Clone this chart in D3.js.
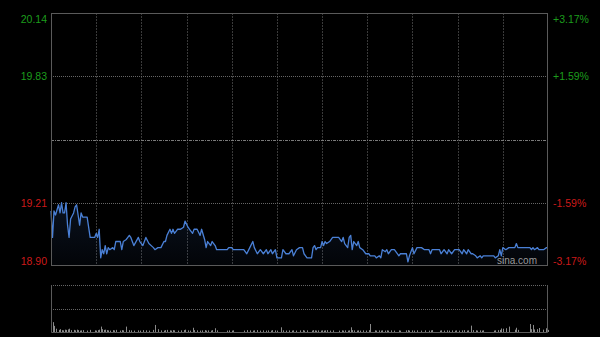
<!DOCTYPE html>
<html>
<head>
<meta charset="utf-8">
<script src="https://cdn.jsdelivr.net/npm/d3@7"></script>
<style>
  body { margin: 0; background: #000; }
  svg { display: block; font-family: Arial, "Liberation Sans", sans-serif; }
</style>
</head>
<body>
<div class="app"></div>
<script>
'use strict'

// Цена закрытия предыдущего дня и подписи шкал
var preClose = 19.52;
var priceTicks = [20.14, 19.83, 19.52, 19.21, 18.90];
var pctTicks = ['+3.17%', '+1.59%', '', '-1.59%', '-3.17%'];

// Торговый день: 330 минут (без обеда), сетка каждые 30 минут
var sessionMinutes = 330;
var gridStep = 30;
var volumeTop = 1000;

// Минута от открытия
var minuteIdx = [
  0, 1, 2, 3, 5, 6, 7, 8, 9, 10,
  11, 12, 13, 15, 16, 17, 18, 19, 20, 21,
  24, 26, 29, 30, 31, 32, 33, 34, 35, 36,
  37, 38, 39, 41, 42, 43, 46, 47, 48, 50,
  52, 53, 55, 58, 59, 61, 63, 65, 68, 69,
  71, 73, 75, 76, 77, 79, 80, 81, 82, 84,
  86, 88, 89, 91, 92, 94, 95, 97, 99, 100,
  102, 103, 104, 106, 107, 109, 110, 117, 118, 120,
  121, 128, 130, 132, 134, 135, 137, 139, 141, 143,
  144, 146, 147, 149, 150, 153, 154, 156, 158, 160,
  161, 163, 165, 167, 168, 170, 173, 174, 175, 176,
  177, 179, 180, 181, 182, 183, 185, 187, 191, 193,
  194, 195, 197, 198, 199, 200, 201, 203, 204, 205,
  207, 209, 211, 212, 215, 216, 218, 219, 220, 222,
  223, 224, 226, 228, 231, 232, 236, 237, 238, 240,
  241, 243, 246, 248, 251, 252, 253, 258, 259, 261,
  263, 264, 266, 268, 269, 271, 273, 274, 276, 277,
  279, 280, 282, 283, 285, 286, 287, 294, 295, 297,
  298, 299, 300, 302, 304, 308, 309, 310, 318, 319,
  320, 321, 323, 324, 327, 329, 330
];

// Цена
var price = [
  19.17, 19.04, 19.17, 19.15, 19.20, 19.16, 19.21, 19.16, 19.16, 19.21,
  19.10, 19.04, 19.13, 19.16, 19.19, 19.20, 19.15, 19.10, 19.16, 19.14,
  19.14, 19.04, 19.04, 19.06, 19.04, 19.08, 18.94, 18.98, 18.96, 19.00,
  18.96, 18.99, 18.98, 18.99, 18.98, 19.02, 19.02, 18.98, 19.02, 19.03,
  19.05, 19.04, 19.00, 19.04, 19.02, 19.00, 19.04, 19.01, 18.99, 18.98,
  18.99, 18.99, 19.02, 19.02, 19.05, 19.08, 19.06, 19.08, 19.06, 19.08,
  19.08, 19.09, 19.12, 19.09, 19.08, 19.06, 19.08, 19.08, 19.05, 19.08,
  19.03, 18.99, 19.02, 19.00, 19.02, 19.00, 18.98, 18.98, 18.99, 18.99,
  18.98, 18.98, 18.96, 18.99, 19.02, 18.99, 18.96, 18.98, 18.96, 18.98,
  18.96, 18.98, 18.96, 18.98, 18.94, 18.94, 18.98, 18.96, 18.96, 18.98,
  18.95, 18.98, 18.99, 18.99, 18.96, 18.94, 18.94, 18.99, 19.00, 18.98,
  18.99, 18.99, 19.02, 19.00, 19.02, 19.01, 19.02, 19.04, 19.04, 19.02,
  19.04, 19.01, 18.99, 19.04, 19.05, 18.98, 19.02, 19.00, 19.02, 18.99,
  18.98, 18.96, 18.96, 18.95, 18.95, 18.94, 18.95, 18.94, 18.98, 18.97,
  18.98, 18.96, 18.98, 18.98, 18.95, 18.96, 18.96, 18.92, 18.95, 18.99,
  18.96, 18.99, 18.99, 18.98, 18.98, 18.96, 18.98, 18.98, 18.96, 18.98,
  18.96, 18.98, 18.96, 18.98, 18.98, 18.98, 18.96, 18.98, 18.96, 18.98,
  18.96, 18.96, 18.95, 18.94, 18.95, 18.94, 18.95, 18.95, 18.94, 18.95,
  18.98, 18.95, 18.99, 18.98, 18.99, 18.99, 19.01, 18.99, 18.99, 18.98,
  18.99, 18.98, 18.99, 18.98, 18.98, 18.99, 18.99
];

// Объём
var volume = [
  280, 210, 130, 70, 45, 60, 40, 35, 50, 45,
  55, 70, 40, 45, 35, 50, 40, 30, 35, 40,
  30, 45, 35, 30, 40, 50, 115, 60, 45, 50,
  40, 35, 30, 40, 35, 45, 30, 40, 35, 115,
  40, 35, 30, 35, 30, 40, 35, 30, 45, 150,
  60, 35, 30, 40, 45, 35, 30, 40, 35, 30,
  35, 40, 50, 35, 30, 90, 40, 35, 30, 35,
  40, 30, 35, 30, 40, 80, 35, 30, 35, 30,
  35, 30, 40, 35, 30, 35, 40, 30, 35, 30,
  35, 30, 40, 35, 30, 100, 35, 30, 35, 30,
  35, 30, 35, 40, 30, 35, 30, 40, 35, 30,
  35, 30, 35, 30, 35, 40, 30, 35, 30, 35,
  30, 35, 30, 35, 100, 40, 35, 30, 35, 30,
  35, 30, 40, 170, 35, 30, 35, 30, 35, 30,
  35, 30, 35, 30, 35, 30, 35, 40, 30, 35,
  30, 35, 30, 35, 30, 35, 40, 30, 35, 30,
  35, 30, 35, 30, 35, 30, 35, 40, 30, 35,
  135, 40, 35, 30, 35, 30, 35, 30, 35, 40,
  45, 75, 70, 80, 115, 50, 90, 45, 170, 60,
  150, 55, 60, 85, 50, 80, 45
];

var data = minuteIdx.map(function(m, i) {
  return { minute: m, price: price[i], volume: volume[i] };
});

// Границы графиков
var box = { left: 51, right: 548, top: 13, bottom: 266, volTop: 285, volBottom: 332 };

var xScale = d3.scaleLinear().domain([0, sessionMinutes]).range([box.left, box.right]);
var yScale = d3.scaleLinear().domain([priceTicks[4], priceTicks[0]]).range([box.bottom, box.top]);
var yVol = d3.scaleLinear().domain([0, volumeTop]).range([box.volBottom, box.volTop]);

function px(v) { return Math.round(v) + 0.5; }

var svg = d3.select('.app')
  .append('svg')
  .attr('width', 600)
  .attr('height', 337);

svg.append('rect')
  .attr('width', 600)
  .attr('height', 337)
  .attr('fill', '#000');

var defs = svg.append('defs');
var grad = defs.append('linearGradient')
  .attr('id', 'areaFill')
  .attr('x1', 0).attr('y1', 0).attr('x2', 0).attr('y2', 1);
grad.append('stop').attr('offset', '0%').attr('stop-color', '#3f6fc0').attr('stop-opacity', 0.16);
grad.append('stop').attr('offset', '100%').attr('stop-color', '#3f6fc0').attr('stop-opacity', 0.04);

// Вертикальная сетка
var gridMinutes = d3.range(gridStep, sessionMinutes, gridStep);

svg.append('g')
  .selectAll('line')
  .data(gridMinutes)
  .join('line')
  .attr('x1', function(d) { return px(xScale(d)); })
  .attr('x2', function(d) { return px(xScale(d)); })
  .attr('y1', box.top)
  .attr('y2', box.bottom)
  .attr('stroke', '#3a3a3a')
  .attr('stroke-dasharray', '2,1');

// Горизонтальная сетка
svg.append('g')
  .selectAll('line')
  .data(priceTicks.slice(1, 4))
  .join('line')
  .attr('x1', box.left)
  .attr('x2', box.right)
  .attr('y1', function(d) { return px(yScale(d)); })
  .attr('y2', function(d) { return px(yScale(d)); })
  .attr('stroke', function(d) { return d === preClose ? '#7a7a7a' : '#666'; })
  .attr('stroke-dasharray', function(d) { return d === preClose ? '3,1,1,1' : '1,1'; });

// Область и линия цены
var area = d3.area()
  .x(function(d) { return xScale(d.minute); })
  .y0(box.bottom)
  .y1(function(d) { return yScale(d.price); });

var line = d3.line()
  .x(function(d) { return xScale(d.minute); })
  .y(function(d) { return yScale(d.price); });

svg.append('path')
  .attr('d', area(data))
  .attr('fill', 'url(#areaFill)');

svg.append('path')
  .attr('d', line(data))
  .attr('fill', 'none')
  .attr('stroke', '#4a80d6')
  .attr('stroke-width', 1.3)
  .attr('stroke-linejoin', 'round');

// Рамка основного графика
svg.append('rect')
  .attr('x', box.left + 0.5)
  .attr('y', box.top + 0.5)
  .attr('width', box.right - box.left - 1)
  .attr('height', box.bottom - box.top - 1)
  .attr('fill', 'none')
  .attr('stroke', '#5a5a5a');

// Подписи цены слева
svg.append('g')
  .selectAll('text')
  .data(priceTicks)
  .join('text')
  .attr('x', box.left - 4)
  .attr('y', function(d, i) {
    var shift = i === 0 ? 6 : (i === priceTicks.length - 1 ? -5 : 0);
    return yScale(d) + shift;
  })
  .attr('dominant-baseline', 'central')
  .attr('text-anchor', 'end')
  .attr('font-size', 10.5)
  .attr('fill', function(d) { return d > preClose ? '#1c9c1c' : '#cc1a1a'; })
  .text(function(d, i) { return i === 2 ? '' : d.toFixed(2); });

// Подписи процентов справа
svg.append('g')
  .selectAll('text')
  .data(pctTicks)
  .join('text')
  .attr('x', box.right + 5)
  .attr('y', function(d, i) {
    var shift = i === 0 ? 6 : (i === pctTicks.length - 1 ? -5 : 0);
    return yScale(priceTicks[i]) + shift;
  })
  .attr('dominant-baseline', 'central')
  .attr('font-size', 10.5)
  .attr('fill', function(d, i) { return priceTicks[i] > preClose ? '#1c9c1c' : '#cc1a1a'; })
  .text(function(d) { return d; });

// Водяной знак
svg.append('text')
  .attr('x', box.right - 11)
  .attr('y', box.bottom - 2)
  .attr('text-anchor', 'end')
  .attr('font-size', 10)
  .attr('fill', '#9a9a9a')
  .text('sina.com');

// Панель объёма
svg.append('g')
  .selectAll('line')
  .data([volumeTop, volumeTop / 2])
  .join('line')
  .attr('x1', box.left)
  .attr('x2', box.right)
  .attr('y1', function(d) { return px(yVol(d)); })
  .attr('y2', function(d) { return px(yVol(d)); })
  .attr('stroke', '#666')
  .attr('stroke-dasharray', '1,1');

svg.append('g')
  .selectAll('line')
  .data(data)
  .join('line')
  .attr('x1', function(d) { return px(xScale(d.minute)); })
  .attr('x2', function(d) { return px(xScale(d.minute)); })
  .attr('y1', yVol(0))
  .attr('y2', function(d) { return yVol(d.volume); })
  .attr('stroke', '#8a8a8a');

svg.append('path')
  .attr('d', 'M' + (box.left + 0.5) + ',' + box.volTop + 'V' + (box.volBottom + 0.5) +
             'H' + (box.right - 0.5) + 'V' + box.volTop)
  .attr('fill', 'none')
  .attr('stroke', '#5a5a5a');
</script>
</body>
</html>
